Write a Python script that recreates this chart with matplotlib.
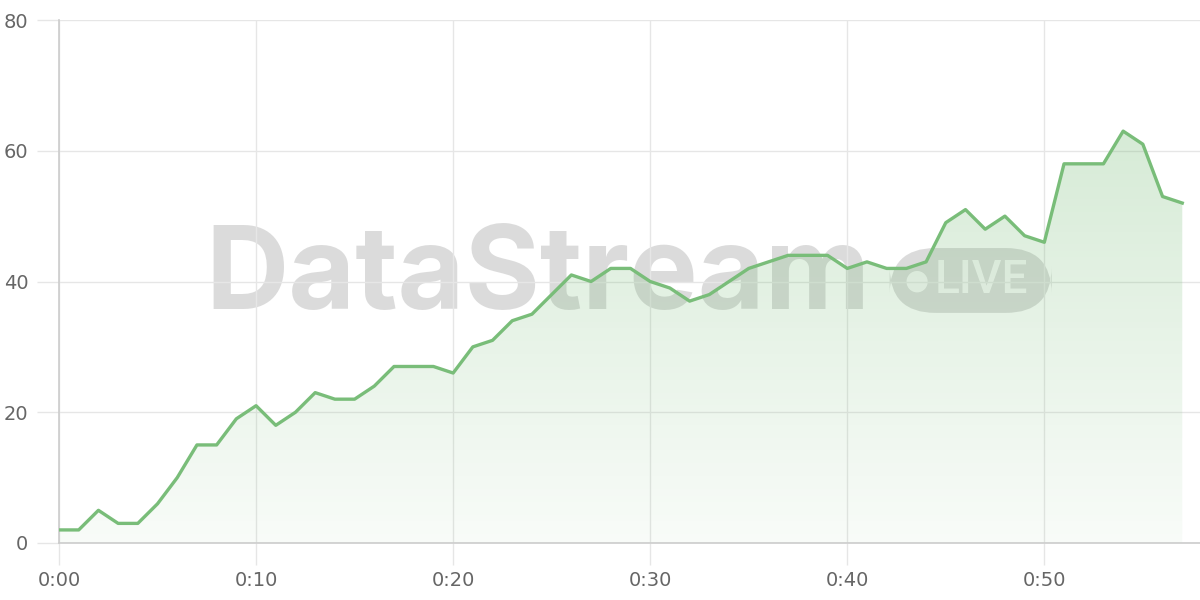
import numpy as np
import matplotlib
matplotlib.use("Agg")
import matplotlib.pyplot as plt
from matplotlib.patches import FancyBboxPatch

# minutes since start and the streamed value at each minute
minutes = list(range(58))
values = [2, 2, 5, 3, 3, 6, 10, 15, 15, 19, 21, 18, 20, 23, 22, 22, 24, 27, 27, 27,
          26, 30, 31, 34, 35, 38, 41, 40, 42, 42, 40, 39, 37, 38, 40, 42, 43, 44, 44, 44,
          42, 43, 42, 42, 43, 49, 51, 48, 50, 47, 46, 58, 58, 58, 63, 61, 53, 52]
x_ticks = [0, 10, 20, 30, 40, 50]
x_labels = ["0:00", "0:10", "0:20", "0:30", "0:40", "0:50"]
y_ticks = [0, 20, 40, 60, 80]

LINE = "#79bd79"
GRID = "#e6e6e6"
TXT = "#666666"

fig = plt.figure(figsize=(12, 6), dpi=100)
ax = fig.add_axes([59 / 1200, 57 / 600, 1 - 59 / 1200, 523 / 600])

# watermark behind the data
ax.text(0.128, 0.505, "DataStream", transform=ax.transAxes, fontsize=83,
        fontweight="bold", family=["Inter", "DejaVu Sans"], color="#c4c4c4", alpha=0.6,
        ha="left", va="center", zorder=0)
box = FancyBboxPatch((0.728, 0.44), 0.142, 0.124, boxstyle="round,pad=0,rounding_size=0.04",
                     transform=ax.transAxes, facecolor="#c4c4c4", alpha=0.6,
                     edgecolor="none", zorder=0, mutation_aspect=2.2)
ax.add_patch(box)
ax.text(0.752, 0.502, "\u25cf", transform=ax.transAxes, fontsize=20,
        family=["DejaVu Sans"], color="white", alpha=0.8,
        ha="center", va="center", zorder=0)
ax.text(0.767, 0.502, "LIVE", transform=ax.transAxes, fontsize=33,
        fontweight="medium", family=["Roboto", "DejaVu Sans"], color="white", alpha=0.8,
        ha="left", va="center", zorder=0)

# gradient fill under the line
xs = np.array(minutes); ys = np.array(values)
poly = ax.fill_between(xs, ys, 0, color="none", zorder=1)
rgba = np.zeros((256, 1, 4))
rgba[..., 0], rgba[..., 1], rgba[..., 2] = 0.47, 0.74, 0.47
rgba[..., 3] = np.linspace(0.05, 0.3, 256).reshape(-1, 1)
img = ax.imshow(rgba, extent=[0, 57, 0, ys.max()], origin="lower", aspect="auto", zorder=1)
img.set_clip_path(poly.get_paths()[0], transform=ax.transData)
ax.plot(xs, ys, color=LINE, lw=2.4, zorder=3, solid_joinstyle="round")
ax.set_xlim(0, 57.9); ax.set_ylim(0, 80)

ax.set_xticks(x_ticks); ax.set_xticklabels(x_labels)
ax.set_yticks(y_ticks)
ax.grid(True, color=GRID, lw=1)
ax.set_axisbelow(True)
ax.tick_params(axis="both", colors=GRID, labelcolor=TXT, labelsize=14, length=16, width=1)
ax.tick_params(axis="x", pad=4)
ax.tick_params(axis="y", pad=6)
for s in ["top", "right"]:
    ax.spines[s].set_visible(False)
for s in ["left", "bottom"]:
    ax.spines[s].set_color("#cccccc")
    ax.spines[s].set_linewidth(1.2)

fig.savefig("out.png", dpi=100)
